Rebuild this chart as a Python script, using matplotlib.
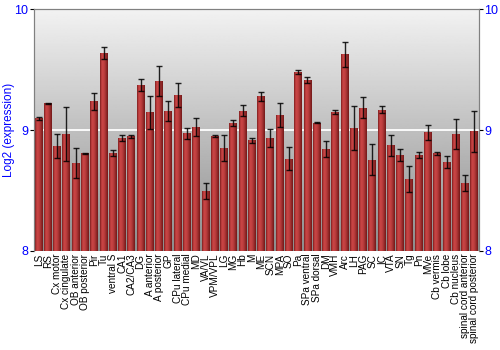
import numpy as np
import matplotlib
matplotlib.use("Agg")
import matplotlib.pyplot as plt

plt.rcParams['font.family'] = ['Liberation Sans', 'DejaVu Sans']

regions = ["LS", "RS", "Cx motor", "Cx cingulate", "OB anterior", "OB posterior",
           "Pir", "Tu", "ventral S", "CA1", "CA2/CA3", "DG", "A anterior",
           "A posterior", "GP", "CPu lateral", "CPu medial", "MD", "VA/VL",
           "VPM/VPL", "LG", "MG", "Hb", "M", "ME", "SCN", "MPA", "SO", "Pa",
           "SPa ventral", "SPa dorsal", "DM", "VMH", "Arc", "LH", "PAG", "SC",
           "IC", "VTA", "SN", "Tg", "Pn", "MVe", "Cb vermis", "Cb lobe",
           "Cb nucleus", "spinal cord anterior", "spinal cord posterior"]

expression = [9.097, 9.223, 8.868, 8.967, 8.727, 8.807, 9.237, 9.636, 8.810,
              8.934, 8.948, 9.374, 9.146, 9.405, 9.157, 9.292, 8.972, 9.027,
              8.496, 8.950, 8.849, 9.058, 9.160, 8.915, 9.278, 8.934, 9.124,
              8.763, 9.479, 9.413, 9.060, 8.846, 9.146, 9.625, 9.014, 9.184,
              8.755, 9.168, 8.873, 8.793, 8.595, 8.793, 8.983, 8.807, 8.736,
              8.967, 8.559, 8.989]

errors = [0.01, 0.004, 0.10, 0.225, 0.124, 0.004, 0.07, 0.047, 0.025, 0.028,
          0.012, 0.052, 0.136, 0.127, 0.085, 0.098, 0.044, 0.073, 0.069, 0.01,
          0.109, 0.023, 0.048, 0.02, 0.04, 0.077, 0.103, 0.096, 0.014, 0.027,
          0.005, 0.066, 0.016, 0.10, 0.182, 0.088, 0.128, 0.028, 0.085, 0.052,
          0.111, 0.025, 0.062, 0.01, 0.051, 0.122, 0.067, 0.171]

yticks = [8, 9, 10]

fig = plt.figure(figsize=(5, 3.5), dpi=100)
ax = fig.add_axes([0.068, 0.283, 0.89, 0.691])

x = np.arange(len(regions))
ymin, ymax = 8, 10
ax.set_xlim(-0.5, len(regions) - 0.5)
ax.set_ylim(ymin, ymax)

# grey background gradient, light at top
bg = np.linspace(0.55, 0.95, 256).reshape(-1, 1)
ax.imshow(bg, cmap='gray', vmin=0, vmax=1, aspect='auto', origin='lower',
          extent=(-0.5, len(regions) - 0.5, ymin, ymax), zorder=0)
ax.axhline(9, color='white', lw=1.3, zorder=1)

# red bars with horizontal shading
width = 0.86
bars = ax.bar(x, np.array(expression) - ymin, width, bottom=ymin,
              color='#b03030', edgecolor='none', zorder=2)
shade = np.array([[0.62, 0.85, 0.95, 0.92, 0.85, 0.75, 0.62, 0.5]])
red_map = matplotlib.colors.LinearSegmentedColormap.from_list('r', ['#5a0c0c', '#d04848'])
for b in bars:
    bx, by = b.get_x(), b.get_y()
    im = ax.imshow(shade, cmap=red_map, vmin=0.3, vmax=1.0, aspect='auto',
                   extent=(bx, bx + b.get_width(), by, by + b.get_height()), zorder=2)
    im.set_clip_path(b)

ax.errorbar(x, expression, yerr=errors, fmt='none', ecolor='black',
            elinewidth=1, capsize=2.5, capthick=1, alpha=0.85, zorder=3)

ax.set_xticks(x)
ax.set_xticklabels(regions, rotation=90, fontsize=7.2)
ax.tick_params(axis='x', length=0, pad=2)

ax.set_yticks(yticks)
ax.tick_params(axis='y', length=3, color='black', labelcolor='blue',
               labelsize=9, pad=1)
ax.set_ylabel("Log2 (expression)", color='blue', fontsize=8.5)
ax.yaxis.set_label_coords(-0.043, 0.5)

ax2 = ax.twinx()
ax2.set_ylim(ymin, ymax)
ax2.set_yticks(yticks)
ax2.tick_params(axis='y', length=3, color='black', labelcolor='blue',
                labelsize=9, pad=1)

for a in (ax, ax2):
    for s in a.spines.values():
        s.set_color('#808080')
    a.spines['bottom'].set_visible(False)

ax.set_xlim(-0.5, len(regions) - 0.5)
fig.savefig("out.png", dpi=100)
